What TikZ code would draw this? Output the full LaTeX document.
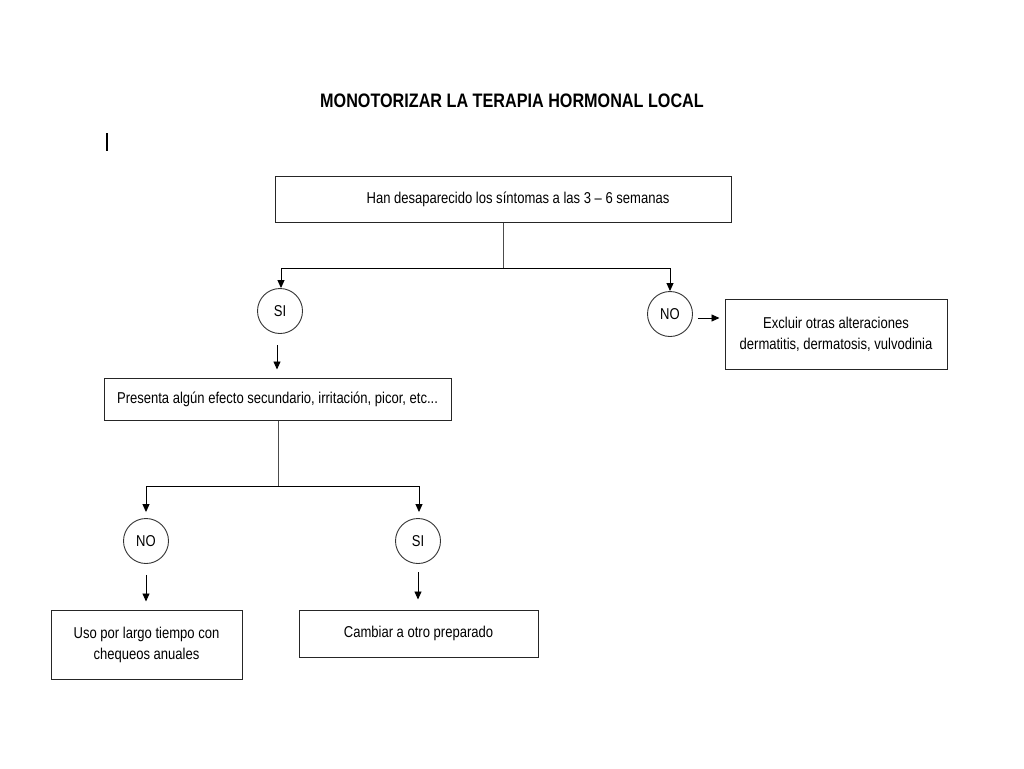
\documentclass[tikz,border=0pt]{standalone}
\usepackage{fontspec}
\setmainfont[FakeStretch=0.83]{Liberation Sans}
\usetikzlibrary{arrows.meta}
\tikzset{
  box/.style={draw=black!85, line width=1pt, rectangle, inner sep=0pt, align=center, font=\fontsize{15.7}{21}\selectfont},
  dec/.style={draw=black!80, line width=0.9pt, circle, minimum size=45pt, inner sep=0pt, font=\fontsize{15.7}{16}\selectfont},
  conn/.style={draw=black!70, line width=0.9pt},
  arr/.style={draw=black, line width=0.9pt, -{Triangle[length=8pt,width=7pt]}},
}
\begin{document}
\begin{tikzpicture}[x=1pt,y=-1pt]
\useasboundingbox (0,0) rectangle (1024,768);
\fill[white] (0,0) rectangle (1024,768);
\node[font=\fontsize{19.5}{20}\selectfont\bfseries] (title) at (512,101) {MONOTORIZAR LA TERAPIA HORMONAL LOCAL};
\coordinate (bart) at (107,133);
\coordinate (barb) at (107,151);
\draw[line width=1.3pt] (bart) -- (barb);

\node[box, minimum width=456pt, minimum height=46pt] (top) at (503,199) {\hspace*{30pt}Han desaparecido los síntomas a las 3 – 6 semanas};
\node[dec] (si1) at (280,311) {SI};
\node[dec] (no1) at (670,314) {NO};
\node[box, minimum width=222pt, minimum height=70pt] (excl) at (836,334) {Excluir otras alteraciones\\dermatitis, dermatosis, vulvodinia};
\node[box, minimum width=347pt, minimum height=42pt] (pres) at (277.5,399) {Presenta algún efecto secundario, irritación, picor, etc...};
\node[dec] (no2) at (146,541) {NO};
\node[dec] (si2) at (418,541) {SI};
\node[box, minimum width=191pt, minimum height=69pt] (uso) at (146.5,644.5) {Uso por largo tiempo con\\chequeos anuales};
\node[box, minimum width=239pt, minimum height=47pt] (camb) at (418.5,633.5) {Cambiar a otro preparado};

\coordinate (b1) at (503,268);
\draw[conn] (top.south) -- (b1);
\draw[arr] (b1) -| ([xshift=1pt]si1.north);
\draw[arr] (b1) -| (no1.north);
\coordinate (sa) at ([xshift=-3pt,yshift=-11.5pt]si1.south);
\draw[arr, shorten >=8pt] (sa) -- (sa |- pres.north);
\coordinate (ea) at ([xshift=5pt,yshift=-4pt]no1.east);
\draw[arr, shorten >=5pt] (ea) -- (excl.west |- ea);

\coordinate (b2) at (278,486);
\draw[conn] (pres.south -| b2) -- (b2);
\draw[arr] (b2) -| ([yshift=6pt]no2.north);
\draw[arr] (b2) -| ([xshift=1pt,yshift=6pt]si2.north);
\coordinate (na) at ([yshift=-11pt]no2.south);
\draw[arr, shorten >=8pt] (na) -- (na |- uso.north);
\coordinate (sb) at ([yshift=-8.5pt]si2.south);
\draw[arr, shorten >=10pt] (sb) -- (sb |- camb.north);
\end{tikzpicture}
\end{document}
